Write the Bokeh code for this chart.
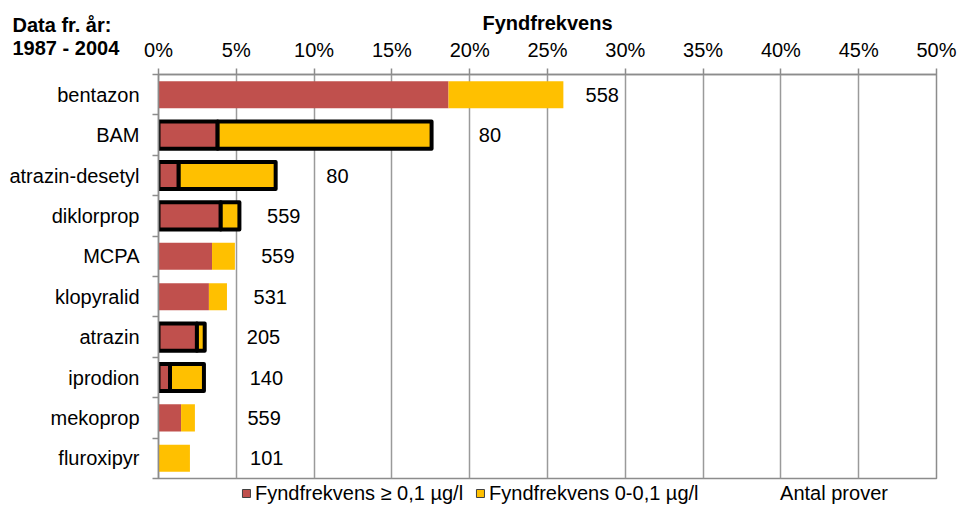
from bokeh.plotting import figure
from bokeh.models import (Range1d, FixedTicker, PrintfTickFormatter, Legend,
                          LegendItem, ColumnDataSource, Title)
from bokeh.core.properties import value
from bokeh.embed import file_html
from bokeh.resources import INLINE

# ---- data ----
categories = ["bentazon", "BAM", "atrazin-desetyl", "diklorprop", "MCPA",
              "klopyralid", "atrazin", "iprodion", "mekoprop", "fluroxipyr"]
red_pct = [18.64, 3.8, 1.3, 4.0, 3.44, 3.24, 2.47, 0.74, 1.45, 0.0]       # Fyndfrekvens >= 0,1 ug/l
yellow_pct = [7.38, 13.75, 6.23, 1.2, 1.47, 1.16, 0.5, 2.18, 0.89, 2.02]  # Fyndfrekvens 0-0,1 ug/l
antal_pad = [5.0, 7.5, 7.94, 5.7, 5.52, 5.56, 7.56, 8.02, 8.9, 9.88]      # invisible "Antal prover" segment
antal_prover = [558, 80, 80, 559, 559, 531, 205, 140, 559, 101]
outlined = [False, True, True, True, False, False, True, True, False, False]
x_ticks = [0, 5, 10, 15, 20, 25, 30, 35, 40, 45, 50]

RED = "#C0504D"
YEL = "#FFC000"
GRAY = "#8C8C8C"
FONT = "Liberation Sans"
NAN = float("nan")

n = len(categories)
ypos = [n - 1 - i + 0.5 for i in range(n)]
total = [r + y for r, y in zip(red_pct, yellow_pct)]
pad_end = [t + a for t, a in zip(total, antal_pad)]
label_x = [(t + e) / 2 for t, e in zip(total, pad_end)]

def sub(mask):
    idx = [i for i in range(n) if mask[i]]
    return ColumnDataSource(dict(
        y=[ypos[i] for i in idx],
        red=[red_pct[i] for i in idx],
        total=[total[i] for i in idx],
    ))

plain_src = sub([not o for o in outlined])
out_src = sub(outlined)
lab_src = ColumnDataSource(dict(y=ypos, tot=total, pend=pad_end, lx=label_x,
                                txt=[str(v) for v in antal_prover]))

p = figure(frame_width=778, frame_height=404, output_backend="svg", toolbar_location=None,
           x_range=Range1d(0, 50), y_range=Range1d(0, n),
           x_axis_location="above",
           min_border_left=158, min_border_right=22, min_border_top=74,
           min_border_bottom=30)
p.outline_line_color = GRAY
p.outline_line_width = 1.5
p.background_fill_color = "white"
p.border_fill_color = "white"

# grid
p.ygrid.visible = False
p.xgrid.ticker = FixedTicker(ticks=x_ticks)
p.xgrid.grid_line_color = "#9A9A9A"
p.xgrid.grid_line_width = 1.5

# x axis (top)
xa = p.xaxis[0]
xa.ticker = FixedTicker(ticks=x_ticks)
xa.formatter = PrintfTickFormatter(format="%d%%")
xa.axis_line_color = GRAY
xa.axis_line_width = 1.5
xa.major_tick_line_color = GRAY
xa.major_tick_line_width = 1.5
xa.major_tick_out = 6
xa.major_tick_in = 0
xa.minor_tick_line_color = None
xa.major_label_text_font = FONT
xa.major_label_text_font_size = "20px"
xa.major_label_text_color = "#000000"
xa.major_label_standoff = 8

# y axis (left)
ya = p.yaxis[0]
ya.ticker = FixedTicker(ticks=ypos, minor_ticks=list(range(n + 1)))
ya.major_label_overrides = {ypos[i]: categories[i] for i in range(n)}
ya.axis_line_color = GRAY
ya.axis_line_width = 1.5
ya.major_tick_line_color = None
ya.major_tick_out = 0
ya.major_tick_in = 0
ya.minor_tick_line_color = GRAY
ya.minor_tick_line_width = 1.5
ya.minor_tick_out = 6
ya.minor_tick_in = 0
ya.major_label_text_font = FONT
ya.major_label_text_font_size = "20px"
ya.major_label_text_color = "#000000"
ya.major_label_standoff = 13

H = 0.67
# plain bars
p.hbar(y="y", left=0, right="red", height=H, source=plain_src,
       fill_color=RED, line_color=None)
p.hbar(y="y", left="red", right="total", height=H, source=plain_src,
       fill_color=YEL, line_color=None)
# outlined bars
p.hbar(y="y", left=0, right="red", height=H, source=out_src,
       fill_color=RED, line_color="black", line_width=4, line_join="round")
p.hbar(y="y", left="red", right="total", height=H, source=out_src,
       fill_color=YEL, line_color="black", line_width=4, line_join="round")
# invisible "Antal prover" segment
antal_r = p.hbar(y="y", left="tot", right="pend", height=H, source=lab_src,
                 fill_alpha=0, line_alpha=0)
p.text(x="lx", y="y", text="txt", source=lab_src, text_align="center",
       text_baseline="middle", text_font=value(FONT), text_font_size="20px",
       text_color="black")

# titles (above the top axis)
p.add_layout(Title(text="Data fr. år:\n1987 - 2004", align="left", offset=-146,
                   vertical_align="bottom", standoff=-48, text_font=FONT,
                   text_font_size="20px", text_font_style="bold",
                   text_color="black", text_line_height=1.07), "above")
p.add_layout(Title(text="Fyndfrekvens", align="center", vertical_align="top",
                   standoff=-1, text_font=FONT, text_font_size="20px",
                   text_font_style="bold", text_color="black"), "above")

# legend (below); swatch proxies hold no visible point
leg_red = p.rect(x=[NAN], y=[NAN], width=1, height=1, fill_color=RED,
                 line_color="#404040", line_width=1)
leg_yel = p.rect(x=[NAN], y=[NAN], width=1, height=1, fill_color=YEL,
                 line_color="#404040", line_width=1)
legend = Legend(items=[LegendItem(label="\u00a0\u00a0", renderers=[antal_r]),
                       LegendItem(label="Fyndfrekvens ≥ 0,1 µg/l", renderers=[leg_red]),
                       LegendItem(label="Fyndfrekvens 0-0,1 µg/l", renderers=[leg_yel]),
                       LegendItem(label="\u00a0" * 10 + "Antal prover\u00a0\u00a0", renderers=[antal_r])],
                orientation="horizontal", location="top_center",
                glyph_width=10, glyph_height=10, label_standoff=4, spacing=12,
                padding=0, margin=0, border_line_color=None, background_fill_alpha=0,
                label_text_font=FONT, label_text_font_size="20px",
                label_text_color="black", label_height=30)
p.add_layout(legend, "below")

open("out.html", "w").write(file_html(p, INLINE))
